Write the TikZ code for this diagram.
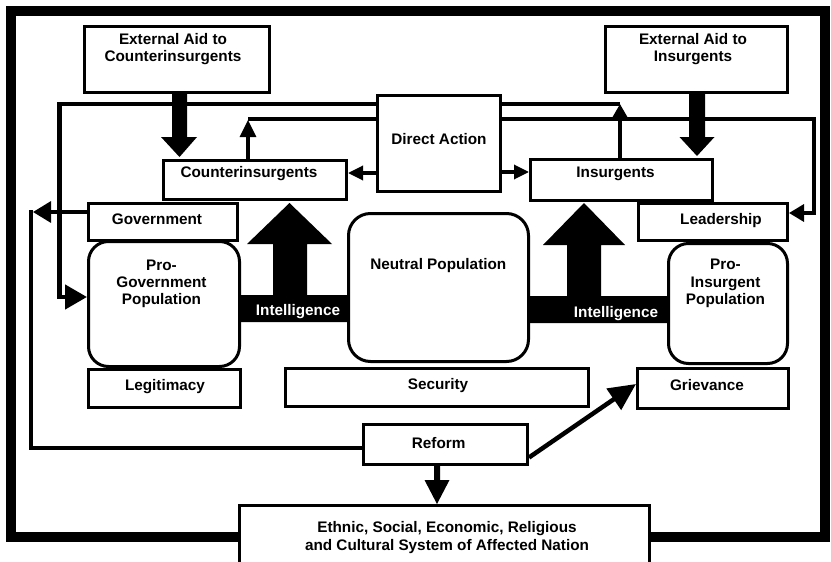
\documentclass[tikz,border=0pt]{standalone}
\usepackage{fontspec}
\setmainfont{Liberation Sans}
\usetikzlibrary{arrows.meta,calc}
\newcommand\dfont{\fontsize{15.3}{17.3}\selectfont\bfseries}
\begin{document}
\begin{tikzpicture}[x=1pt,y=-1pt,
  box/.style={draw, line width=3pt, fill=white, inner sep=0pt},
  rbox/.style={box, rounded corners=20pt},
  txt/.style={font=\dfont, inner sep=0pt, align=center, anchor=north},
  conn/.style={line width=3.3pt},
  heavy/.style={line width=4.5pt}]
\useasboundingbox (0,0) rectangle (831,562);
\draw[line width=10pt] (11,11) rectangle (825,537);
% boxes
\node[box, minimum width=185pt, minimum height=66pt] (extC) at (177,59.5) {};
\node[box, minimum width=182pt, minimum height=66pt] (extI) at (696.5,59.5) {};
\node[box, minimum width=123pt, minimum height=96pt] (direct) at (439,143.5) {};
\node[box, minimum width=183pt, minimum height=39pt] (coin) at (255,180) {};
\node[box, minimum width=182pt, minimum height=41pt] (ins) at (621.5,180) {};
\node[box, minimum width=149pt, minimum height=37pt] (gov) at (163,222) {};
\node[box, minimum width=149pt, minimum height=37pt] (lead) at (713,222) {};
\node[rbox, minimum width=151pt, minimum height=125pt] (progov) at (164,304) {};
\node[rbox, rounded corners=22pt, minimum width=180pt, minimum height=148pt] (neutral) at (438.5,287.5) {};
\node[rbox, minimum width=119pt, minimum height=120pt] (proins) at (728,303.5) {};
\node[box, minimum width=152pt, minimum height=38pt] (legit) at (164.5,388.5) {};
\node[box, minimum width=303pt, minimum height=38pt] (secur) at (437,387.5) {};
\node[box, minimum width=151pt, minimum height=40pt] (griev) at (713,388.5) {};
\node[box, minimum width=164pt, minimum height=40pt] (reform) at (445.5,444.5) {};
\node[box, minimum width=410pt, minimum height=58pt] (nation) at (444.5,534) {};
% texts
\node[txt] (extCt) at (173,33.3) {External Aid to\\Counterinsurgents};
\node[txt] (extIt) at (693,33.3) {External Aid to\\Insurgents};
\node[txt] (directt) at (439,133.3) {Direct Action};
\node[txt] (coint) at (249,166.7) {Counterinsurgents};
\node[txt] (inst) at (615.5,166.7) {Insurgents};
\node[txt] (govt) at (157,213.3) {Government};
\node[txt] (leadt) at (721,213.3) {Leadership};
\node[txt] (progovt) at (161.5,259.3) {Pro-\\Government\\Population};
\node[txt] (neutralt) at (438.3,258.3) {Neutral Population};
\node[txt] (proinst) at (725.5,259) {Pro-\\Insurgent\\Population};
\node[txt] (legitt) at (165,379.3) {Legitimacy};
\node[txt] (securt) at (438,378.7) {Security};
\node[txt] (grievt) at (707,379) {Grievance};
\node[txt] (reformt) at (438.7,437.3) {Reform};
\node[txt] (nationt) at (447,521.7) {Ethnic, Social, Economic, Religious\\and Cultural System of Affected Nation};
% block arrows
\fill (172,94) -- (187,94) -- (187,137) -- (197,137) -- (179.5,157) -- (161,137) -- (172,137) -- cycle;
\fill (689,94) -- (705,94) -- (705,137) -- (714.5,137) -- (697,156) -- (679.5,137) -- (689,137) -- cycle;
\fill (434,466) -- (440,466) -- (440,480) -- (449.5,480) -- (437,504) -- (424.5,480) -- (434,480) -- cycle;
\fill (progov.east |- 0,322) -- (neutral.west |- 0,322) -- (neutral.west |- 0,295) -- (307,295) -- (307,244) -- (332,244) -- (289.5,203) -- (247,244) -- (273,244) -- (273,295) -- (progov.east |- 0,295) -- cycle;
\fill (neutral.east |- 0,323) -- (proins.west |- 0,323) -- (proins.west |- 0,296) -- (601,296) -- (601,245) -- (625,245) -- (584,203) -- (543,245) -- (567,245) -- (567,296) -- (neutral.east |- 0,296) -- cycle;
\node[txt, text=white] (intL) at (298,304.3) {Intelligence};
\node[txt, text=white] (intR) at (616,306.7) {Intelligence};
% connectors
\draw[heavy, -{Triangle[length=22pt,width=24pt]}] (direct.west |- 0,104) -- (59.5,104) -- (59.5,297) -- (progov.west |- 0,297);
\draw[conn] (direct.west |- 0,119) -- (248,119);
\draw[conn, -{Triangle[length=17pt,width=16pt]}] (248,0 |- coin.north) -- (248,120);
\draw[heavy] (direct.east |- 0,104) -- (620,104);
\draw[conn, -{Triangle[length=14pt,width=15pt]}] (620,0 |- ins.north) -- (620,104);
\draw[conn, -{Triangle[length=15pt,width=17pt]}] (direct.east |- 0,119) -- (814,119) -- (814,213) -- (lead.east |- 0,213);
\draw[conn, -{Triangle[length=15pt,width=14pt]}] (direct.west |- 0,173) -- (coin.east |- 0,173);
\draw[conn, -{Triangle[length=15pt,width=14pt]}] (direct.east |- 0,172) -- (ins.west |- 0,172);
\draw[conn, -{Triangle[length=18pt,width=21pt]}] (gov.west |- 0,212) -- (33,212);
\draw[heavy] (reform.west |- 0,448) -- (31,448) -- (31,210);
\draw[heavy, -{Triangle[length=27pt,width=25pt]}] ([yshift=-13pt]reform.east) -- ([yshift=4.5pt]griev.west);
\end{tikzpicture}
\end{document}
